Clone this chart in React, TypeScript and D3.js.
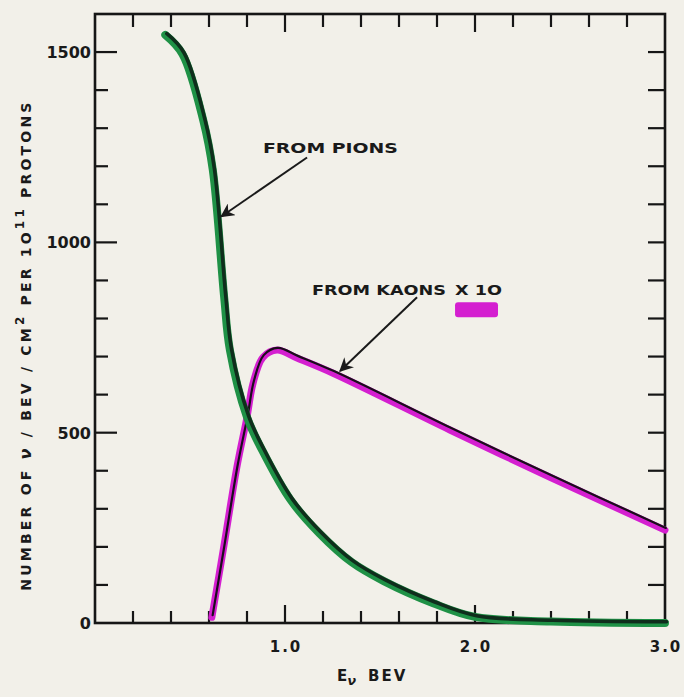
import React, { useEffect, useRef } from "react";
import * as d3 from "d3";

// pion neutrino spectrum
const pionE = [0.37, 0.46, 0.57, 0.62, 0.68, 0.71, 0.8, 0.88, 1.03, 1.18, 1.35, 1.52, 1.78, 2.0, 2.4, 3.0];
const pionN = [1545, 1495, 1320, 1190, 855, 717, 541, 454, 323, 236, 160, 110, 52, 16, 4, 0];

// kaon neutrino spectrum x 10
const kaonE = [0.615, 0.675, 0.747, 0.8, 0.832, 0.884, 0.958, 1.063, 1.253, 1.868, 2.395, 3.0];
const kaonN = [15, 192, 410, 541, 630, 698, 717, 696, 656, 507, 383, 244];

const xMajor = [1.0, 2.0, 3.0];
const yMajor = [0, 500, 1000, 1500];

export default function App() {
  const ref = useRef<SVGSVGElement>(null);

  useEffect(() => {
    document.body.style.margin = "0";
    document.body.style.background = "#f2f0e9";

    const svg = d3.select(ref.current);
    svg.selectAll("*").remove();

    const width = 684;
    const height = 697;
    const margin = { top: 14, right: 19, bottom: 74, left: 95 };
    const font = "'DejaVu Sans', sans-serif";

    svg.attr("width", width).attr("height", height);

    const x = d3.scaleLinear().domain([0, 3]).range([margin.left, width - margin.right]);
    const y = d3.scaleLinear().domain([0, 1600]).range([height - margin.bottom, margin.top]);

    svg.append("rect").attr("width", width).attr("height", height).attr("fill", "#f2f0e9");

    const defs = svg.append("defs");
    defs.append("marker")
      .attr("id", "arrow")
      .attr("viewBox", "0 0 10 10")
      .attr("refX", 9)
      .attr("refY", 5)
      .attr("markerWidth", 7)
      .attr("markerHeight", 7)
      .attr("markerUnits", "strokeWidth")
      .attr("orient", "auto")
      .append("path")
      .attr("d", "M0,0 L10,5 L0,10 L3,5 Z")
      .attr("fill", "#1a1a1a");

    // ticks, all pointing inward
    const xMinor = d3.range(0.2, 3.0, 0.2);
    const yMinor = d3.range(100, 1600, 100);
    const isMajorX = (v: number) => xMajor.some(m => Math.abs(m - v) < 1e-6);
    const isMajorY = (v: number) => yMajor.some(m => Math.abs(m - v) < 1e-6);

    const ticks = svg.append("g").attr("stroke", "#161616").attr("stroke-width", 2.2);
    xMinor.forEach(v => {
      const len = isMajorX(v) ? 18 : 12;
      ticks.append("line").attr("x1", x(v)).attr("x2", x(v))
        .attr("y1", y(0)).attr("y2", y(0) - len);
      ticks.append("line").attr("x1", x(v)).attr("x2", x(v))
        .attr("y1", y(1600)).attr("y2", y(1600) + (isMajorX(v) ? 18 : 13));
    });
    yMinor.forEach(v => {
      ticks.append("line").attr("x1", x(0)).attr("x2", x(0) + (isMajorY(v) ? 22 : 13))
        .attr("y1", y(v)).attr("y2", y(v));
      ticks.append("line").attr("x1", x(3)).attr("x2", x(3) - 17)
        .attr("y1", y(v)).attr("y2", y(v));
    });

    // frame
    svg.append("rect")
      .attr("x", x(0)).attr("y", y(1600))
      .attr("width", x(3) - x(0)).attr("height", y(0) - y(1600))
      .attr("fill", "none").attr("stroke", "#161616").attr("stroke-width", 2.6);

    // tick labels
    svg.append("g").selectAll("text").data(yMajor).enter().append("text")
      .attr("x", x(0) - 4).attr("y", d => y(d) + 6)
      .attr("text-anchor", "end")
      .attr("font-family", font).attr("font-weight", "bold").attr("font-size", 16)
      .attr("fill", "#1a1a1a")
      .text(d => d);

    svg.append("g").selectAll("text").data(xMajor).enter().append("text")
      .attr("x", d => x(d) + 1).attr("y", y(0) + 29)
      .attr("text-anchor", "middle")
      .attr("font-family", font).attr("font-weight", "bold").attr("font-size", 15)
      .attr("letter-spacing", 2)
      .attr("fill", "#1a1a1a")
      .text(d => d.toFixed(1));

    // x axis title
    const xt = svg.append("text")
      .attr("x", 337).attr("y", y(0) + 58)
      .attr("font-family", font).attr("font-weight", "bold").attr("font-size", 15)
      .attr("fill", "#1a1a1a");
    xt.append("tspan").text("E");
    xt.append("tspan").attr("dy", 4).attr("font-size", 13).attr("font-style", "italic").text("ν");
    xt.append("tspan").attr("dy", -4).attr("dx", 12).attr("letter-spacing", 2).text("BEV");

    // y axis title
    const yt = svg.append("text")
      .attr("transform", `translate(31, 345) rotate(-90)`)
      .attr("text-anchor", "middle")
      .attr("font-family", font).attr("font-weight", "bold").attr("font-size", 14)
      .attr("letter-spacing", 3.2)
      .attr("fill", "#1a1a1a");
    yt.append("tspan").text("NUMBER OF ");
    yt.append("tspan").attr("font-style", "italic").attr("font-size", 16).text("ν");
    yt.append("tspan").text(" / BEV / CM");
    yt.append("tspan").attr("dy", -7).attr("font-size", 12).text("2");
    yt.append("tspan").attr("dy", 7).text(" PER  1O");
    yt.append("tspan").attr("dy", -7).attr("font-size", 12).text("11");
    yt.append("tspan").attr("dy", 7).text(" PROTONS");

    // curves
    const line = d3.line<[number, number]>()
      .x(d => x(d[0]))
      .y(d => y(d[1]))
      .curve(d3.curveCatmullRom.alpha(0.5));

    const pions: [number, number][] = pionE.map((e, i) => [e, pionN[i]]);
    const kaons: [number, number][] = kaonE.map((e, i) => [e, kaonN[i]]);

    svg.append("path").attr("d", line(kaons)).attr("fill", "none")
      .attr("stroke", "#d41fd0").attr("stroke-width", 7).attr("stroke-linecap", "round");
    svg.append("path").attr("d", line(kaons)).attr("fill", "none")
      .attr("transform", "translate(0.8,-2.2)")
      .attr("stroke", "#1b0d1c").attr("stroke-width", 2.2).attr("stroke-linecap", "round");

    svg.append("path").attr("d", line(pions)).attr("fill", "none")
      .attr("stroke", "#1f9146").attr("stroke-width", 8).attr("stroke-linecap", "round");
    svg.append("path").attr("d", line(pions)).attr("fill", "none")
      .attr("transform", "translate(1.6,-1.2)")
      .attr("stroke", "#0f2e1c").attr("stroke-width", 3.6).attr("stroke-linecap", "round");

    // annotations
    const label = (t: string, e: number, n: number, w: number) =>
      svg.append("text")
        .attr("x", x(e)).attr("y", y(n))
        .attr("font-family", font).attr("font-weight", "bold").attr("font-size", 14)
        .attr("textLength", w).attr("lengthAdjust", "spacingAndGlyphs")
        .attr("fill", "#1a1a1a")
        .text(t);

    label("FROM PIONS", 0.884, 1234, 135);
    label("FROM KAONS", 1.142, 861, 134);
    label("X 1O", 1.895, 861, 47);

    svg.append("rect")
      .attr("x", x(1.895)).attr("y", y(843))
      .attr("width", x(2.121) - x(1.895)).attr("height", y(803) - y(843))
      .attr("rx", 3)
      .attr("fill", "#d41fd0");

    const arrow = (e0: number, n0: number, e1: number, n1: number) =>
      svg.append("line")
        .attr("x1", x(e0)).attr("y1", y(n0))
        .attr("x2", x(e1)).attr("y2", y(n1))
        .attr("stroke", "#1a1a1a").attr("stroke-width", 2)
        .attr("marker-end", "url(#arrow)");

    arrow(1.116, 1223, 0.665, 1068);
    arrow(1.695, 856, 1.29, 662);
  }, []);

  return <svg ref={ref} style={{ display: "block" }}></svg>;
}
